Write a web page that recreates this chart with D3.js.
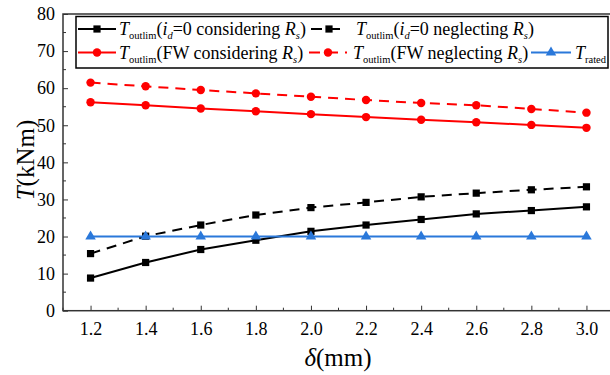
<!DOCTYPE html>
<html>
<head>
<meta charset="utf-8">
<script src="https://cdn.jsdelivr.net/npm/d3@7"></script>
<style>
  html, body { margin: 0; padding: 0; background: #fff; }
  svg { display: block; font-family: "Liberation Serif", "Times New Roman", serif; }
</style>
</head>
<body>
<svg id="chart" width="610" height="375"></svg>
<script>
// ---- data ----
const delta = [1.2, 1.4, 1.6, 1.8, 2.0, 2.2, 2.4, 2.6, 2.8, 3.0];
const idConsidering = [8.8, 13.0, 16.5, 19.0, 21.4, 23.1, 24.6, 26.1, 27.0, 28.0];
const idNeglecting  = [15.4, 20.1, 23.1, 25.8, 27.8, 29.2, 30.7, 31.7, 32.6, 33.4];
const fwConsidering = [56.2, 55.4, 54.5, 53.8, 53.0, 52.2, 51.5, 50.8, 50.1, 49.3];
const fwNeglecting  = [61.5, 60.5, 59.5, 58.6, 57.7, 56.8, 56.0, 55.4, 54.4, 53.4];
const rated         = [20, 20, 20, 20, 20, 20, 20, 20, 20, 20];
const xTicks = [1.2, 1.4, 1.6, 1.8, 2.0, 2.2, 2.4, 2.6, 2.8, 3.0];
const yTicks = [0, 10, 20, 30, 40, 50, 60, 70, 80];

const svg = d3.select("#chart");
const L = 63, R = 614, T = 14, B = 310.7;
const x = d3.scaleLinear().domain([1.1, 3.1]).range([L, R]);
const y = d3.scaleLinear().domain([0, 80]).range([B, T]);

const axisColor = "#333";
const black = "#000", red = "#ff0000", blue = "#2a78da";

// ---- axes ----
const xMinor = d3.range(1.1, 3.11, 0.1).map(v => +v.toFixed(2)).filter(v => !xTicks.some(t => Math.abs(t - v) < 1e-6));
const yMinor = d3.range(5, 80, 10);

const xAxis = d3.axisBottom(x).tickValues(xTicks).tickFormat(d3.format(".1f")).tickSizeInner(-5).tickSizeOuter(0).tickPadding(12);
const gx = svg.append("g").attr("transform", `translate(0,${B})`).call(xAxis);
gx.select(".domain").remove();
gx.selectAll(".tick line").attr("stroke", axisColor).attr("stroke-width", 1);
gx.selectAll(".tick text").attr("font-size", 18).attr("font-family", "Liberation Serif").attr("fill", "#000");
svg.append("g").selectAll("line").data(xMinor).join("line")
  .attr("x1", d => x(d)).attr("x2", d => x(d)).attr("y1", B).attr("y2", B - 3)
  .attr("stroke", axisColor).attr("stroke-width", 1);

const yAxis = d3.axisLeft(y).tickValues(yTicks).tickSizeInner(-5).tickSizeOuter(0).tickPadding(8);
const gy = svg.append("g").attr("transform", `translate(${L},0)`).call(yAxis);
gy.select(".domain").remove();
gy.selectAll(".tick line").attr("stroke", axisColor).attr("stroke-width", 1);
gy.selectAll(".tick text").attr("font-size", 18).attr("font-family", "Liberation Serif").attr("fill", "#000");
svg.append("g").selectAll("line").data(yMinor).join("line")
  .attr("x1", L).attr("x2", L + 3).attr("y1", d => y(d)).attr("y2", d => y(d))
  .attr("stroke", axisColor).attr("stroke-width", 1);

// frame
svg.append("rect").attr("x", L).attr("y", T).attr("width", R - L).attr("height", B - T)
  .attr("fill", "none").attr("stroke", axisColor).attr("stroke-width", 1.5);

// axis titles
const xt = svg.append("text").attr("x", 338).attr("y", 366).attr("text-anchor", "middle").attr("font-size", 25);
xt.append("tspan").attr("font-style", "italic").text("δ");
xt.append("tspan").text("(mm)");
const yt = svg.append("text").attr("transform", "translate(34,160) rotate(-90)").attr("text-anchor", "middle").attr("font-size", 25);
yt.append("tspan").attr("font-style", "italic").text("T");
yt.append("tspan").text("(kNm)");

// ---- series ----
const series = [
  { vals: idConsidering, color: black, dash: null, marker: "square" },
  { vals: idNeglecting, color: black, dash: "10,7", marker: "square" },
  { vals: fwConsidering, color: red, dash: null, marker: "circle" },
  { vals: fwNeglecting, color: red, dash: "10,7", marker: "circle" },
  { vals: rated, color: blue, dash: null, marker: "triangle" }
];
const symType = { square: d3.symbolSquare, circle: d3.symbolCircle, triangle: d3.symbolTriangle };
const symSize = { square: 52, circle: 56, triangle: 48 };
const line = d3.line().x((d, i) => x(delta[i])).y(d => y(d));

// draw blue first so black lines go over? Order: rated drawn last in Origin
series.forEach(s => {
  svg.append("path").datum(s.vals).attr("d", line)
    .attr("fill", "none").attr("stroke", s.color).attr("stroke-width", 2)
    .attr("stroke-dasharray", s.dash);
  svg.append("g").selectAll("path").data(s.vals).join("path")
    .attr("transform", (d, i) => `translate(${x(delta[i])},${y(d)})`)
    .attr("d", d3.symbol().type(symType[s.marker]).size(symSize[s.marker]))
    .attr("fill", s.color);
});

// ---- legend ----
svg.append("rect").attr("x", 76).attr("y", 16.5).attr("width", 532).attr("height", 51.5)
  .attr("fill", "#fff").attr("stroke", "#000").attr("stroke-width", 1.5);

function legendText(xp, yp, parts) {
  const t = svg.append("text").attr("x", xp).attr("y", yp).attr("font-size", 18);
  let shift = 0;
  parts.forEach(p => {
    const target = p.sub ? 4 : 0;
    const ts = t.append("tspan").text(p.t).attr("dy", target - shift);
    shift = target;
    if (p.it) ts.attr("font-style", "italic");
    if (p.sub) ts.attr("font-size", 10.5);
  });
}
function legendSample(x1, x2, yp, s) {
  svg.append("line").attr("x1", x1).attr("x2", x2).attr("y1", yp).attr("y2", yp)
    .attr("stroke", s.color).attr("stroke-width", 2).attr("stroke-dasharray", s.dash ? "11,7" : null);
  svg.append("path").attr("transform", `translate(${(x1 + x2) / 2},${yp})`)
    .attr("d", d3.symbol().type(symType[s.marker]).size(symSize[s.marker])).attr("fill", s.color);
}
const r1 = 29, r2 = 52.5;
legendSample(78, 116, r1, series[0]);
legendText(119, r1 + 6, [{t:"T",it:1},{t:"outlim",sub:1},{t:"("},{t:"i",it:1},{t:"d",it:1,sub:1},{t:"=0 considering "},{t:"R",it:1},{t:"s",it:1,sub:1},{t:")"}]);
legendSample(311, 347, r1, series[1]);
legendText(356, r1 + 6, [{t:"T",it:1},{t:"outlim",sub:1},{t:"("},{t:"i",it:1},{t:"d",it:1,sub:1},{t:"=0 neglecting "},{t:"R",it:1},{t:"s",it:1,sub:1},{t:")"}]);
legendSample(78, 116, r2, series[2]);
legendText(119, r2 + 6, [{t:"T",it:1},{t:"outlim",sub:1},{t:"(FW considering "},{t:"R",it:1},{t:"s",it:1,sub:1},{t:")"}]);
legendSample(309, 347, r2, series[3]);
legendText(353, r2 + 6, [{t:"T",it:1},{t:"outlim",sub:1},{t:"(FW neglecting "},{t:"R",it:1},{t:"s",it:1,sub:1},{t:")"}]);
legendSample(531, 571, r2, series[4]);
legendText(575, r2 + 6, [{t:"T",it:1},{t:"rated",sub:1}]);
</script>
</body>
</html>
